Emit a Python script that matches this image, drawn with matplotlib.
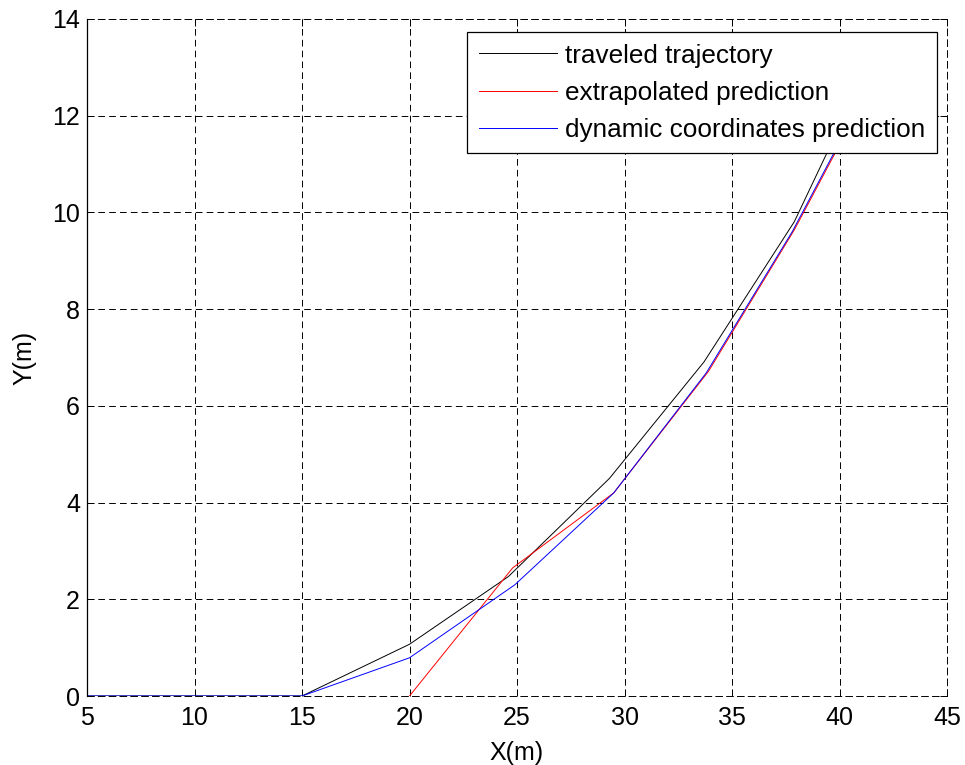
import matplotlib
matplotlib.use('Agg')
from matplotlib import pyplot as plt

# data
x_traveled = [5, 10, 15, 20, 24.6, 29.3, 33.7, 37.9, 41.2]
y_traveled = [0, 0, 0, 1.07, 2.47, 4.5, 6.91, 9.81, 12.9]

x_extrap = [20, 24.8, 29.5, 33.9, 37.9, 40.6]
y_extrap = [0, 2.65, 4.2, 6.71, 9.64, 11.9]

x_dynamic = [5, 10, 15, 20, 24.9, 29.5, 33.8, 37.8, 40.6]
y_dynamic = [0, 0, 0, 0.79, 2.3, 4.2, 6.68, 9.6, 11.95]

x_ticks = [5, 10, 15, 20, 25, 30, 35, 40, 45]
y_ticks = [0, 2, 4, 6, 8, 10, 12, 14]

plt.rcParams['font.family'] = ['Liberation Sans', 'DejaVu Sans']
plt.rcParams['font.size'] = 18
plt.rcParams['lines.scale_dashes'] = False

dash = (0, (4.8, 3.0))

fig = plt.figure(figsize=(9.65, 7.65), dpi=100)
ax = fig.add_axes([87/965, 69/765, 860/965, 677/765])

ax.plot(x_traveled, y_traveled, color='black', lw=0.7, label='traveled trajectory')
ax.plot(x_extrap, y_extrap, color='red', lw=0.7, label='extrapolated prediction')
ax.plot(x_dynamic, y_dynamic, color='blue', lw=0.7, label='dynamic coordinates prediction')

ax.set_xlim(5, 45)
ax.set_ylim(0, 14)
ax.set_xticks(x_ticks)
ax.set_yticks(y_ticks)
ax.grid(True, color='black', lw=0.7, linestyle=dash)
ax.tick_params(direction='in', top=True, right=True, length=5, width=0.7, labelsize=18)
ax.tick_params(axis='x', pad=7)
ax.tick_params(axis='y', pad=5)

for s in ['top', 'right', 'bottom']:
    ax.spines[s].set_linestyle(dash)
    ax.spines[s].set_linewidth(0.7)
ax.spines['left'].set_linewidth(0.9)

ax.set_xlabel('X(m)', fontsize=18, labelpad=8)
ax.set_ylabel('Y(m)', fontsize=18, labelpad=11)

leg = ax.legend(loc='upper right', bbox_to_anchor=(0.988, 0.981), fancybox=False,
                edgecolor='black', framealpha=1, handlelength=3.0, handletextpad=0.3,
                labelspacing=0.5, borderpad=0.45, borderaxespad=0, fontsize=18.8)
leg.get_frame().set_linewidth(0.9)

fig.savefig('out.png', dpi=100)
